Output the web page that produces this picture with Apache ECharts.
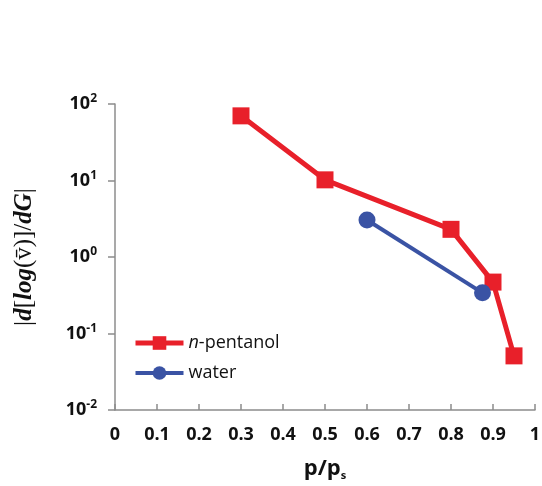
<!DOCTYPE html>
<html>
<head>
<meta charset="utf-8">
<script src="https://cdn.jsdelivr.net/npm/echarts@6/dist/echarts.min.js"></script>
<style>
  html, body { margin: 0; padding: 0; background: #fff; }
  #chart { width: 542px; height: 486px; }
</style>
</head>
<body>
<div id="chart"></div>
<script>
// Relative pressure p/ps and the gradient magnitude for each adsorbate
const pentanolP = [0.3, 0.5, 0.8, 0.9, 0.95];
const pentanolG = [70, 10.2, 2.3, 0.47, 0.051];
const waterP = [0.6, 0.875];
const waterG = [3.05, 0.34];
const xTicks = [0, 0.1, 0.2, 0.3, 0.4, 0.5, 0.6, 0.7, 0.8, 0.9, 1];

const chart = echarts.init(document.getElementById('chart'));
const axisColor = '#8c8c8c';
const red = '#e8202a';
const blue = '#3a53a4';
const fontFam = '"Open Sans", "DejaVu Sans", sans-serif';
const serif = '"Liberation Serif", "DejaVu Serif", serif';

chart.setOption({
  animation: false,
  grid: { left: 115, right: 7, top: 104, bottom: 76, containLabel: false, outerBoundsMode: 'none' },
  legend: {
    orient: 'vertical',
    left: 128,
    top: 329,
    itemWidth: 48,
    itemHeight: 17,
    itemGap: 12,
    data: [
      { name: 'n-pentanol', lineStyle: { color: red, width: 5 } },
      { name: 'water', lineStyle: { color: blue, width: 4 } }
    ],
    formatter: function (name) {
      return name === 'n-pentanol' ? '{i|n}-pentanol' : name;
    },
    textStyle: {
      fontFamily: fontFam, fontSize: 18, color: '#111',
      rich: { i: { fontStyle: 'italic', fontFamily: fontFam, fontSize: 18, color: '#111' } }
    }
  },
  xAxis: {
    type: 'value',
    min: 0, max: 1, interval: 0.1,
    axisLine: { lineStyle: { color: axisColor, width: 1.5 } },
    axisTick: { inside: true, length: 6, lineStyle: { color: axisColor, width: 1.5 } },
    splitLine: { show: false },
    axisLabel: {
      margin: 16,
      fontFamily: fontFam, fontWeight: 'bold', fontSize: 18, color: '#111',
      formatter: function (v) {
        const t = xTicks.find(function (x) { return Math.abs(x - v) < 1e-9; });
        return t === undefined ? '' : String(t);
      }
    },
    name: '{p|p/p}{s|s}',
    nameLocation: 'middle',
    nameGap: 47,
    nameTextStyle: {
      rich: {
        p: { fontFamily: fontFam, fontWeight: 'bold', fontSize: 22, color: '#111' },
        s: { fontFamily: fontFam, fontWeight: 'bold', fontSize: 11, color: '#111', padding: [13, 0, 0, 0] }
      }
    }
  },
  yAxis: {
    type: 'log',
    logBase: 10,
    min: 0.01, max: 100,
    axisLine: { show: true, lineStyle: { color: axisColor, width: 1.5 } },
    axisTick: { show: true, length: 7, lineStyle: { color: axisColor, width: 1.5 } },
    splitLine: { show: false },
    minorTick: { show: false },
    axisLabel: {
      margin: 18,
      formatter: function (v) {
        const e = Math.round(Math.log10(v));
        return '{b|10}{e|' + e + '}';
      },
      rich: {
        b: { fontFamily: fontFam, fontWeight: 'bold', fontSize: 18, color: '#111' },
        e: { fontFamily: fontFam, fontWeight: 'bold', fontSize: 12, color: '#111', padding: [0, 0, 10, 0] }
      }
    },
    name: '{r||}{i|d}{r|[}{i|log}{r|(v\u0304)]/}{i|dG}{r||}',
    nameLocation: 'middle',
    nameGap: 78,
    nameRotate: 90,
    nameTextStyle: {
      rich: {
        r: { fontFamily: serif, fontSize: 25, color: '#111' },
        i: { fontFamily: serif, fontStyle: 'italic', fontWeight: 'bold', fontSize: 25, color: '#111' }
      }
    }
  },
  series: [
    {
      name: 'n-pentanol',
      type: 'line',
      data: pentanolP.map(function (p, i) { return [p, pentanolG[i]]; }),
      symbol: 'rect',
      symbolSize: 17,
      lineStyle: { color: red, width: 5 },
      itemStyle: { color: red },
      z: 2
    },
    {
      name: 'water',
      type: 'line',
      data: waterP.map(function (p, i) { return [p, waterG[i]]; }),
      symbol: 'circle',
      symbolSize: 17,
      lineStyle: { color: blue, width: 4 },
      itemStyle: { color: blue },
      z: 3
    }
  ]
});
</script>
</body>
</html>
